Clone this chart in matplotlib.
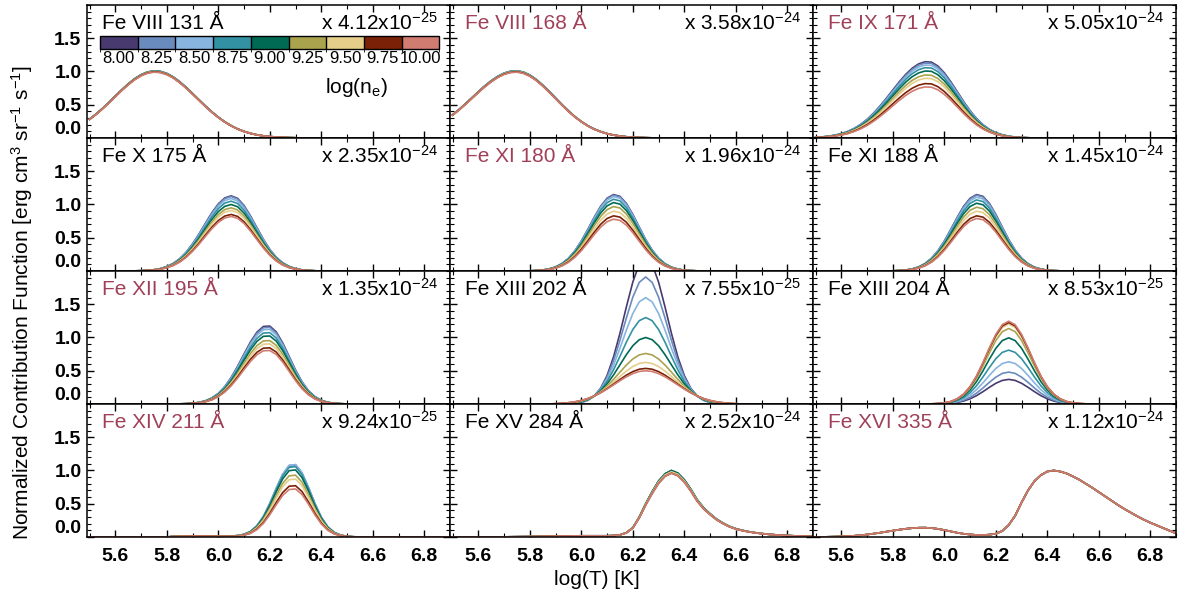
import numpy as np
import matplotlib
matplotlib.use('Agg')
import matplotlib.pyplot as plt
from matplotlib.colors import ListedColormap, BoundaryNorm
from matplotlib.cm import ScalarMappable
from matplotlib.ticker import MultipleLocator

plt.rcParams['font.family'] = ['Liberation Sans', 'DejaVu Sans']
plt.rcParams['mathtext.fontset'] = 'custom'
plt.rcParams['mathtext.rm'] = 'Liberation Sans'
plt.rcParams['mathtext.it'] = 'Liberation Sans:italic'
plt.rcParams['mathtext.bf'] = 'Liberation Sans:bold'

# temperature grid, log(T) from 5.5 to 6.9 in steps of 0.025
log_t = np.linspace(5.5, 6.9, 57)

# densities and their colours
log_ne = ['8.00', '8.25', '8.50', '8.75', '9.00', '9.25', '9.50', '9.75', '10.00']
ne_colors = ['#483A6F', '#6A8BBE', '#87B5DF', '#3391A4', '#006A55',
             '#A9A34E', '#E5CE8A', '#7A2107', '#D07C70']

line_names = ['Fe VIII 131 Å', 'Fe VIII 168 Å', 'Fe IX 171 Å',
              'Fe X 175 Å', 'Fe XI 180 Å', 'Fe XI 188 Å',
              'Fe XII 195 Å', 'Fe XIII 202 Å', 'Fe XIII 204 Å',
              'Fe XIV 211 Å', 'Fe XV 284 Å', 'Fe XVI 335 Å']
line_scales = ['4.12', '3.58', '5.05', '2.35', '1.96', '1.45',
               '1.35', '7.55', '8.53', '9.24', '2.52', '1.12']
line_exps = ['-25', '-24', '-24', '-24', '-24', '-24',
             '-24', '-25', '-25', '-25', '-24', '-24']
line_red = [False, True, True, False, True, False,
            True, False, False, True, False, True]

# normalised temperature profiles and peak height per density
prof_fe8_131 = [0.281, 0.356, 0.440, 0.531, 0.625, 0.719, 0.806, 0.883, 0.943, 0.983,
                1.000, 0.992, 0.961, 0.909, 0.838, 0.755, 0.663, 0.569, 0.476, 0.389,
                0.310, 0.241, 0.183, 0.135, 0.098, 0.069, 0.047, 0.032, 0.021, 0.014,
                0.009, 0.005, 0.003] + [0.0] * 24
peak_fe8_131 = [1.01, 1.01, 1.01, 1.005, 1.005, 1.0, 1.0, 0.995, 0.99]

prof_fe8_168 = [0.345, 0.424, 0.510, 0.599, 0.689, 0.775, 0.852, 0.917, 0.965, 0.993,
                1.000, 0.981, 0.937, 0.871, 0.788, 0.694, 0.595, 0.496, 0.403, 0.318,
                0.245, 0.183, 0.133, 0.095, 0.065, 0.044, 0.029, 0.018, 0.011, 0.007,
                0.004, 0.002] + [0.0] * 25
peak_fe8_168 = [1.01, 1.01, 1.01, 1.01, 1.0, 1.0, 1.0, 0.995, 0.99]

prof_fe9_171 = [0.008, 0.014, 0.023, 0.037, 0.057, 0.086, 0.126, 0.178, 0.244, 0.325,
                0.418, 0.520, 0.628, 0.734, 0.832, 0.912, 0.969, 0.997, 0.992, 0.941,
                0.852, 0.736, 0.607, 0.477, 0.357, 0.255, 0.174, 0.113, 0.070, 0.042,
                0.023, 0.012, 0.006, 0.003] + [0.0] * 23
peak_fe9_171 = [1.15, 1.13, 1.10, 1.06, 1.01, 0.95, 0.90, 0.82, 0.77]

prof_fe10_175 = [0.0] * 7 + [
    0.002, 0.004, 0.008, 0.017, 0.032, 0.059, 0.101, 0.163, 0.249, 0.361,
    0.492, 0.635, 0.775, 0.893, 0.972, 1.000, 0.966, 0.871, 0.732, 0.575,
    0.421, 0.287, 0.183, 0.109, 0.061, 0.031, 0.015, 0.007, 0.003] + [0.0] * 21
peak_fe10_175 = [1.13, 1.12, 1.09, 1.05, 1.00, 0.95, 0.91, 0.85, 0.82]

prof_fe11_180 = [0.0] * 11 + [
    0.001, 0.002, 0.006, 0.013, 0.027, 0.053, 0.098, 0.166, 0.264, 0.392,
    0.543, 0.701, 0.846, 0.951, 0.999, 0.976, 0.883, 0.739, 0.573, 0.411,
    0.273, 0.168, 0.096, 0.050, 0.025, 0.011, 0.005, 0.002] + [0.0] * 18
peak_fe11_180 = [1.15, 1.14, 1.12, 1.08, 1.03, 0.97, 0.90, 0.83, 0.78]

prof_fe11_188 = [0.0] * 11 + [
    0.001, 0.002, 0.006, 0.013, 0.027, 0.053, 0.098, 0.166, 0.264, 0.392,
    0.543, 0.701, 0.846, 0.951, 0.999, 0.976, 0.883, 0.739, 0.573, 0.411,
    0.273, 0.168, 0.096, 0.050, 0.025, 0.011, 0.005, 0.002] + [0.0] * 18
peak_fe11_188 = [1.15, 1.14, 1.11, 1.07, 1.02, 0.96, 0.90, 0.83, 0.79]

prof_fe12_195 = [0.0] * 14 + [
    0.002, 0.004, 0.010, 0.020, 0.041, 0.077, 0.135, 0.221, 0.338, 0.481,
    0.638, 0.791, 0.915, 0.988, 0.993, 0.919, 0.779, 0.607, 0.433, 0.283,
    0.170, 0.094, 0.047, 0.022, 0.009, 0.004, 0.001] + [0.0] * 16
peak_fe12_195 = [1.18, 1.16, 1.13, 1.08, 1.03, 0.96, 0.91, 0.85, 0.81]

# Fe XIII 202: curve shape changes with density, one list per density (5.90-6.60)
g_fe13_202 = [
    [0.000, 0.001, 0.003, 0.009, 0.023, 0.055, 0.120, 0.237, 0.428, 0.706, 1.063, 1.461, 1.834, 2.102, 2.200,
     2.102, 1.834, 1.461, 1.063, 0.706, 0.428, 0.237, 0.120, 0.055, 0.023, 0.009, 0.003, 0.001, 0.000],
    [0.000, 0.001, 0.004, 0.010, 0.025, 0.058, 0.120, 0.230, 0.403, 0.648, 0.956, 1.294, 1.607, 1.829, 1.910,
     1.829, 1.607, 1.294, 0.956, 0.648, 0.403, 0.230, 0.120, 0.058, 0.025, 0.010, 0.004, 0.001, 0.000],
    [0.000, 0.002, 0.005, 0.012, 0.028, 0.060, 0.120, 0.220, 0.373, 0.582, 0.837, 1.112, 1.361, 1.536, 1.600,
     1.536, 1.361, 1.112, 0.837, 0.582, 0.373, 0.220, 0.120, 0.060, 0.028, 0.012, 0.005, 0.002, 0.000],
    [0.001, 0.002, 0.006, 0.014, 0.031, 0.064, 0.120, 0.210, 0.340, 0.513, 0.717, 0.930, 1.120, 1.253, 1.300,
     1.253, 1.120, 0.930, 0.717, 0.513, 0.340, 0.210, 0.120, 0.064, 0.031, 0.014, 0.006, 0.002, 0.001],
    [0.001, 0.004, 0.008, 0.018, 0.036, 0.068, 0.120, 0.197, 0.303, 0.437, 0.589, 0.742, 0.876, 0.967, 1.000,
     0.967, 0.876, 0.742, 0.589, 0.437, 0.303, 0.197, 0.120, 0.068, 0.036, 0.018, 0.008, 0.004, 0.001],
    [0.002, 0.006, 0.012, 0.023, 0.043, 0.074, 0.120, 0.185, 0.269, 0.370, 0.479, 0.586, 0.677, 0.738, 0.760,
     0.738, 0.677, 0.586, 0.479, 0.370, 0.269, 0.185, 0.120, 0.074, 0.043, 0.023, 0.012, 0.006, 0.002],
    [0.004, 0.008, 0.015, 0.028, 0.047, 0.077, 0.120, 0.177, 0.247, 0.328, 0.414, 0.496, 0.564, 0.609, 0.625,
     0.609, 0.564, 0.496, 0.414, 0.328, 0.247, 0.177, 0.120, 0.077, 0.047, 0.028, 0.015, 0.008, 0.004],
    [0.005, 0.010, 0.019, 0.032, 0.052, 0.081, 0.120, 0.170, 0.231, 0.298, 0.368, 0.434, 0.487, 0.523, 0.535,
     0.523, 0.487, 0.434, 0.368, 0.298, 0.231, 0.170, 0.120, 0.081, 0.052, 0.032, 0.019, 0.010, 0.005],
    [0.006, 0.011, 0.020, 0.034, 0.054, 0.082, 0.120, 0.168, 0.224, 0.286, 0.350, 0.409, 0.457, 0.489, 0.500,
     0.489, 0.457, 0.409, 0.350, 0.286, 0.224, 0.168, 0.120, 0.082, 0.054, 0.034, 0.020, 0.011, 0.006],
]

prof_fe13_204 = [0.0] * 17 + [
    0.001, 0.002, 0.005, 0.013, 0.030, 0.063, 0.120, 0.211, 0.339, 0.501,
    0.678, 0.841, 0.958, 1.000, 0.958, 0.841, 0.678, 0.501, 0.339, 0.211,
    0.120, 0.063, 0.030, 0.013, 0.005, 0.002, 0.001] + [0.0] * 13
peak_fe13_204 = [0.37, 0.48, 0.635, 0.81, 0.995, 1.135, 1.20, 1.225, 1.245]

prof_fe14_211 = [0.0] * 13 + [
    0.008, 0.011, 0.013, 0.015, 0.016, 0.016, 0.015, 0.013, 0.011, 0.013,
    0.019, 0.036, 0.075, 0.153, 0.279, 0.458, 0.665, 0.857, 0.978, 0.989,
    0.876, 0.678, 0.458, 0.270, 0.139, 0.063, 0.025, 0.009, 0.003, 0.001] + [0.0] * 14
peak_fe14_211 = [1.09, 1.10, 1.10, 1.07, 1.02, 0.94, 0.88, 0.78, 0.73]

prof_fe15_284 = [0.0, 0.0, 0.0, 0.0, 0.0, 0.0, 0.0, 0.0, 0.002, 0.003,
                 0.004, 0.005, 0.006, 0.008, 0.010, 0.011, 0.012, 0.014, 0.015, 0.017,
                 0.018, 0.018, 0.018, 0.018, 0.018, 0.022, 0.032, 0.065, 0.140, 0.300,
                 0.500, 0.680, 0.840, 0.950, 1.000, 0.960, 0.860, 0.720, 0.560, 0.440,
                 0.350, 0.270, 0.210, 0.160, 0.125, 0.100, 0.080, 0.065, 0.052, 0.042,
                 0.034, 0.027, 0.022, 0.018, 0.014, 0.011, 0.009]
peak_fe15_284 = [0.99, 1.0, 1.0, 1.0, 1.0, 0.98, 0.98, 0.96, 0.96]

prof_fe16_335 = [0.0, 0.001, 0.003, 0.005, 0.008, 0.012, 0.018, 0.026, 0.037, 0.050,
                 0.064, 0.080, 0.095, 0.110, 0.123, 0.133, 0.139, 0.140, 0.134, 0.122,
                 0.104, 0.084, 0.064, 0.048, 0.037, 0.031, 0.030, 0.035, 0.050, 0.090,
                 0.180, 0.320, 0.520, 0.700, 0.840, 0.930, 0.985, 1.000, 0.985, 0.955,
                 0.910, 0.860, 0.800, 0.740, 0.675, 0.610, 0.545, 0.480, 0.420, 0.365,
                 0.310, 0.260, 0.215, 0.175, 0.135, 0.095, 0.055]
peak_fe16_335 = [1.0, 1.0, 1.0, 1.0, 1.0, 1.0, 1.0, 1.0, 1.0]


def scaled(prof, peaks):
    p = np.array(prof)
    return [p * pk for pk in peaks]


panel_curves = [
    scaled(prof_fe8_131, peak_fe8_131),
    scaled(prof_fe8_168, peak_fe8_168),
    scaled(prof_fe9_171, peak_fe9_171),
    scaled(prof_fe10_175, peak_fe10_175),
    scaled(prof_fe11_180, peak_fe11_180),
    scaled(prof_fe11_188, peak_fe11_188),
    scaled(prof_fe12_195, peak_fe12_195),
    [np.array([0.0] * 16 + c + [0.0] * 12) for c in g_fe13_202],
    scaled(prof_fe13_204, peak_fe13_204),
    scaled(prof_fe14_211, peak_fe14_211),
    scaled(prof_fe15_284, peak_fe15_284),
    scaled(prof_fe16_335, peak_fe16_335),
]

red = '#A04058'

fig, axes = plt.subplots(4, 3, figsize=(11.79, 6.01), dpi=100)
fig.subplots_adjust(left=0.0738, right=0.9975, top=0.9917, bottom=0.1065,
                    wspace=0, hspace=0)

for i, ax in enumerate(axes.flat):
    row, col = divmod(i, 3)
    for curve, c in zip(panel_curves[i], ne_colors):
        ax.plot(log_t, curve, color=c, lw=1.2)

    ax.set_xlim(5.49, 6.9)
    ax.set_ylim(0, 2.0)
    ax.set_xticks([5.6, 5.8, 6.0, 6.2, 6.4, 6.6, 6.8],
                  ['5.6', '5.8', '6.0', '6.2', '6.4', '6.6', '6.8'],
                  fontsize=14, fontweight='bold')
    ax.set_yticks([0.0, 0.5, 1.0, 1.5], ['0.0', '0.5', '1.0', '1.5'],
                  fontsize=14, fontweight='bold')
    ax.get_yticklabels()[0].set_verticalalignment('bottom')
    ax.xaxis.set_minor_locator(MultipleLocator(0.1))
    ax.yaxis.set_minor_locator(MultipleLocator(0.1))
    ax.tick_params(which='both', direction='in', top=True, right=True)
    ax.tick_params(which='major', length=5, width=1.0)
    ax.tick_params(which='minor', length=2.8, width=0.8)
    ax.tick_params(axis='x', pad=8)
    ax.tick_params(axis='y', pad=4)
    if col > 0:
        ax.tick_params(labelleft=False)
    if row < 3:
        ax.tick_params(labelbottom=False)
    for s in ax.spines.values():
        s.set_linewidth(1.1)

    ax.text(0.0405, 0.817, line_names[i], transform=ax.transAxes, fontsize=15,
            color=red if line_red[i] else 'black', ha='left', va='baseline')
    ax.text(0.967, 0.817, 'x ' + line_scales[i] + 'x10$^{' + line_exps[i] + '}$',
            transform=ax.transAxes, fontsize=15, ha='right', va='baseline')

# density colour bar in the first panel
ax0 = axes[0, 0]
cax = ax0.inset_axes([0.0358, 0.669, 0.9348, 0.0977])
cmap = ListedColormap(ne_colors)
norm = BoundaryNorm(np.arange(10), 9)
cb = fig.colorbar(ScalarMappable(norm=norm, cmap=cmap), cax=cax,
                  orientation='horizontal', drawedges=True,
                  ticks=np.arange(9) + 0.5)
cb.set_ticklabels(log_ne)
cb.ax.tick_params(length=0, labelsize=12, pad=1.5)
cb.outline.set_linewidth(1.0)
cb.dividers.set_linewidth(1.0)
ax0.text(0.741, 0.376, r'log(n$_\mathrm{e}$)', transform=ax0.transAxes, fontsize=15,
         ha='center', va='center')

fig.text(0.0187, 0.497,
         'Normalized Contribution Function [erg cm$^3$ sr$^{-1}$ s$^{-1}$]',
         rotation=90, ha='center', va='center', fontsize=15)
fig.text(0.506, 0.035, 'log(T) [K]', ha='center', va='center', fontsize=15)

fig.savefig('out.png', dpi=100)
